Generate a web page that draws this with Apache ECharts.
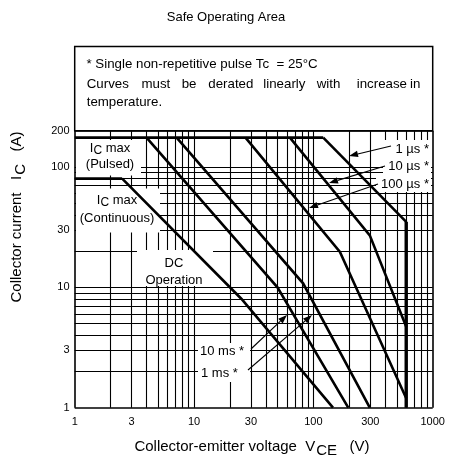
<!DOCTYPE html>
<html><head><meta charset="utf-8">
<script src="https://cdn.jsdelivr.net/npm/echarts@6/dist/echarts.min.js"></script>
<style>html,body{margin:0;padding:0;background:#fff}#c{width:451px;height:460px}</style>
</head><body><div id="c"></div>
<script>
// ---- data ----
const xTicks = [1, 3, 10, 30, 100, 300, 1000];
const yTicks = [1, 3, 10, 30, 100, 200];
const xGrid = [2,3,4,5,6,7,8,9,10,20,30,40,50,60,70,80,90,100,200,300,400,500,600,700,800,900];
const yGrid = [2,3,4,5,6,7,8,9,10,20,30,40,50,60,70,80,90,100];
const icMaxPulsed = [[1, 175], [121, 175]];
const icMaxCont = [[1, 80], [2.5, 80]];
const dcOperation = [[2.5, 80], [25, 8], [146, 1]];
const pulse10ms = [[4, 175], [50, 10], [196, 1]];
const pulse1ms = [[7.15, 175], [82, 10.8], [297, 1]];
const pulse100us = [[27, 175], [167, 19.7], [600, 1.2]];
const pulse10us = [[63.6, 175], [297, 27], [600, 4.7]];
const pulse1us = [[121, 175], [600, 35]];
const vceLimit = [[600, 35], [600, 1]];

const F = 'Arial, "Liberation Sans", sans-serif';
const chart = echarts.init(document.getElementById('c'));

const curve = (name, data, w) => ({
  type: 'line', name, data, symbol: 'none', z: 5, silent: true,
  lineStyle: { color: '#000', width: w || 2.6, cap: 'butt', join: 'miter' }
});

const gridLines = xGrid.map(v => ({ xAxis: v })).concat(yGrid.map(v => ({ yAxis: v })));
const borderLines = [{ xAxis: 1 }, { xAxis: 1000 }, { yAxis: 1 }, { yAxis: 200 }];

chart.setOption({
  animation: false,
  grid: { left: 74.7, right: 18.3, top: 130.7, bottom: 52.3, show: false },
  xAxis: { type: 'log', logBase: 10, min: 1, max: 1000,
    axisLine: { show: false }, axisTick: { show: false }, axisLabel: { show: false }, splitLine: { show: false } },
  yAxis: { type: 'log', logBase: 10, min: 1, max: 200,
    axisLine: { show: false }, axisTick: { show: false }, axisLabel: { show: false }, splitLine: { show: false } },
  series: [
    { type: 'line', data: [], z: 1, silent: true,
      markLine: { z: 1, silent: true, symbol: 'none', label: { show: false }, animation: false,
        lineStyle: { color: '#000', width: 1.1, type: 'solid' }, data: gridLines } },
    { type: 'line', data: [], z: 6, silent: true,
      markLine: { z: 6, silent: true, symbol: 'none', label: { show: false }, animation: false,
        lineStyle: { color: '#000', width: 1.6, type: 'solid' }, data: borderLines } },
    curve('Ic max pulsed', icMaxPulsed, 2.8),
    curve('Ic max continuous', icMaxCont, 2.8),
    curve('DC', dcOperation),
    curve('10 ms', pulse10ms),
    curve('1 ms', pulse1ms),
    curve('100 us', pulse100us),
    curve('10 us', pulse10us),
    curve('1 us', pulse1us),
    curve('VCE limit', vceLimit, 3.4)
  ]
});

// ---- annotations ----
const g = [];
const txt = (x, y, text, o) => Object.assign({ type: 'text', x, y, z: 20, silent: true,
  style: Object.assign({ text, fill: '#000', fontFamily: F, fontSize: 13, align: 'center', verticalAlign: 'middle' }, o || {}) });
const box = (x, y, w, h) => ({ type: 'rect', z: 3, silent: true, shape: { x, y, width: w, height: h }, style: { fill: '#fff' } });
function arrow(x1, y1, x2, y2) {
  const a = Math.atan2(y2 - y1, x2 - x1), L = 9, W = 3.2;
  const bx = x2 - L * Math.cos(a), by = y2 - L * Math.sin(a);
  g.push({ type: 'line', z: 21, silent: true, shape: { x1, y1, x2: bx, y2: by }, style: { stroke: '#000', lineWidth: 1.1 } });
  g.push({ type: 'polygon', z: 21, silent: true, shape: { points: [[x2, y2],
    [bx + W * Math.sin(a), by - W * Math.cos(a)], [bx - W * Math.sin(a), by + W * Math.cos(a)]] }, style: { fill: '#000' } });
}
const rich = { n: { fontSize: 13, fontFamily: F, fill: '#000' }, s: { fontSize: 12, fontFamily: F, fill: '#000', padding: [6, 0, 0, 0] } };
const richBig = { n: { fontSize: 15, fontFamily: F, fill: '#000' }, s: { fontSize: 15, fontFamily: F, fill: '#000', padding: [7, 0, 0, 1] } };

// title
g.push(txt(226, 17, 'Safe Operating Area', { fontSize: 13 }));
// header note box
g.push({ type: 'rect', z: 3, silent: true, shape: { x: 74.7, y: 46.5, width: 358, height: 84.2 }, style: { fill: '#fff', stroke: '#000', lineWidth: 1.5 } });
g.push(txt(86.5, 64, '* Single non-repetitive pulse Tc  = 25°C', { fontSize: 13.3, align: 'left' }));
const words = ['Curves', 'must', 'be', 'derated', 'linearly', 'with', 'increase', 'in'];
const wordX = [86.7, 141.5, 181.7, 208.3, 263.3, 316.7, 356.7, 410];
words.forEach((w, i) => g.push(txt(wordX[i], 84, w, { fontSize: 13.3, align: 'left' })));
g.push(txt(86.7, 102, 'temperature.', { fontSize: 13.3, align: 'left' }));

// white label boxes
g.push(box(76, 140, 65, 35.5));
g.push(box(76, 188.5, 84, 44));
g.push(box(137, 250, 76, 36));
g.push(box(198, 343, 52, 39));
g.push(box(383, 140, 48, 52));
g.push(box(376, 176, 55, 16));

g.push(txt(110, 148, '{n|I}{s|C}{n| max}', { rich, fontSize: 13 }));
g.push(txt(110, 164.5, '(Pulsed)'));
g.push(txt(117, 200, '{n|I}{s|C}{n| max}', { rich, fontSize: 13 }));
g.push(txt(117, 218.5, '(Continuous)'));
g.push(txt(174, 263, 'DC'));
g.push(txt(174, 280, 'Operation'));
g.push(txt(200, 351, '10 ms *', { align: 'left' }));
g.push(txt(201, 373, '1 ms *', { align: 'left' }));
g.push(txt(429, 149, '1 µs *', { align: 'right' }));
g.push(txt(429, 166.5, '10 µs *', { align: 'right' }));
g.push(txt(429, 184.5, '100 µs *', { align: 'right' }));

arrow(391, 146, 349, 156);
arrow(385, 166, 329, 183);
arrow(378, 184, 309, 208);
arrow(251, 349, 287, 315);
arrow(248, 370, 312, 315);

// tick labels positioned through the axes
xTicks.forEach(v => {
  const p = chart.convertToPixel({ xAxisIndex: 0 }, v);
  g.push(txt(p, 421.5, String(v), { fontSize: 11 }));
});
yTicks.forEach(v => {
  const p = chart.convertToPixel({ yAxisIndex: 0 }, v);
  g.push(txt(69.5, p, String(v), { fontSize: 11, align: 'right' }));
});

// axis names
g.push(txt(252, 447, '{n|Collector-emitter voltage  V}{s|CE}{n|   (V)}', { rich: richBig, fontSize: 15 }));
g.push(Object.assign(txt(17, 217, '{n|Collector current   I}{s|C}{n|   (A)}', { rich: richBig, fontSize: 15 }), { rotation: Math.PI / 2 }));

chart.setOption({ graphic: { elements: g } });
</script></body></html>
